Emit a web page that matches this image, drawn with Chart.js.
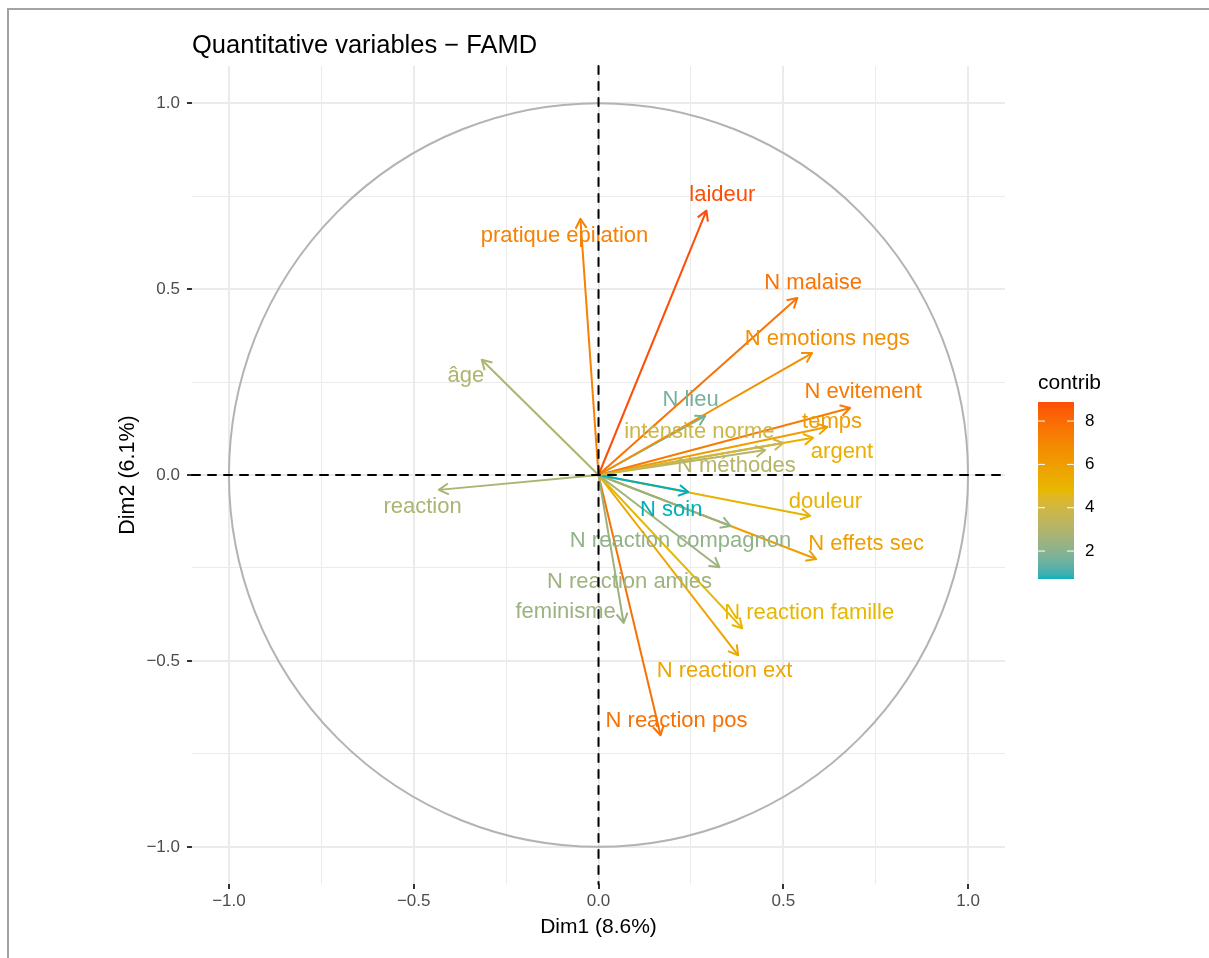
<!DOCTYPE html>
<html><head><meta charset="utf-8">
<script src="https://cdn.jsdelivr.net/npm/chart.js@4.4.0/dist/chart.umd.min.js"></script>
<style>html,body{margin:0;padding:0;background:#fff;}canvas{display:block;}</style>
</head><body>
<canvas id="c" width="1209" height="958"></canvas>
<script>
// ---------- data ----------
const variables = ['laideur','pratique epilation','N malaise','N emotions negs','âge','N lieu','intensite norme','N evitement','temps','argent','N méthodes','reaction','N soin','douleur','N reaction compagnon','N effets sec','N reaction amies','feminisme','N reaction famille','N reaction ext','N reaction pos'];
const dim1 = [0.292,-0.049,0.538,0.578,-0.316,0.289,0.500,0.681,0.619,0.581,0.451,-0.432,0.243,0.573,0.357,0.589,0.327,0.068,0.389,0.378,0.168];
const dim2 = [0.711,0.689,0.476,0.328,0.310,0.159,0.086,0.180,0.129,0.100,0.067,-0.040,-0.046,-0.110,-0.137,-0.226,-0.248,-0.398,-0.412,-0.485,-0.700];
const contrib = [8.88,7.16,7.74,6.63,2.94,1.64,3.86,7.44,6.00,5.22,3.12,2.82,0.71,5.10,2.19,5.97,2.52,2.45,4.82,5.67,7.77];
const labelDim1 = [0.335,-0.092,0.581,0.619,-0.359,0.249,0.273,0.716,0.632,0.659,0.373,-0.476,0.197,0.614,0.222,0.724,0.084,-0.089,0.570,0.341,0.211];
const labelDim2 = [0.754,0.643,0.517,0.366,0.266,0.202,0.116,0.223,0.143,0.062,0.024,-0.086,-0.094,-0.073,-0.178,-0.186,-0.288,-0.369,-0.371,-0.528,-0.662];
const axisTicks = [-1.0,-0.5,0.0,0.5,1.0];
const legendTicks = [2,4,6,8];
const gradientColors = ['#00AFBB','#E7B800','#FC4E07'];
const titleText = 'Quantitative variables \u2212 FAMD';
const xTitle = 'Dim1 (8.6%)';
const yTitle = 'Dim2 (6.1%)';
const legendTitle = 'contrib';

// ---------- colour ramp in CIELAB (like ggplot) ----------
function s2l(c){c/=255;return c<=0.04045?c/12.92:Math.pow((c+0.055)/1.055,2.4);}
function l2s(c){const v=c<=0.0031308?12.92*c:1.055*Math.pow(c,1/2.4)-0.055;return Math.round(Math.max(0,Math.min(1,v))*255);}
function hexToLab(h){
  const r=s2l(parseInt(h.substr(1,2),16)),g=s2l(parseInt(h.substr(3,2),16)),b=s2l(parseInt(h.substr(5,2),16));
  const X=(0.4124564*r+0.3575761*g+0.1804375*b)/0.95047,Y=0.2126729*r+0.7151522*g+0.0721750*b,Z=(0.0193339*r+0.1191920*g+0.9503041*b)/1.08883;
  const f=t=>t>0.008856?Math.cbrt(t):7.787*t+16/116;
  const fx=f(X),fy=f(Y),fz=f(Z);
  return [116*fy-16,500*(fx-fy),200*(fy-fz)];
}
function labToRgb(L,a,bb){
  const fy=(L+16)/116,fx=fy+a/500,fz=fy-bb/200;
  const fi=t=>{const t3=t*t*t;return t3>0.008856?t3:(t-16/116)/7.787;};
  const X=fi(fx)*0.95047,Y=fi(fy),Z=fi(fz)*1.08883;
  const r=3.2404542*X-1.5371385*Y-0.4985314*Z,g=-0.9692660*X+1.8760108*Y+0.0415560*Z,b=0.0556434*X-0.2040259*Y+1.0572252*Z;
  return 'rgb('+l2s(r)+','+l2s(g)+','+l2s(b)+')';
}
const labStops = gradientColors.map(hexToLab);
const cMin = Math.min(...contrib), cMax = Math.max(...contrib);
function colorFor(v){
  let t=(v-cMin)/(cMax-cMin); t=Math.max(0,Math.min(1,t));
  const seg=t<0.5?0:1; const u=(t-seg*0.5)/0.5;
  const A=labStops[seg],B=labStops[seg+1];
  return labToRgb(A[0]+(B[0]-A[0])*u,A[1]+(B[1]-A[1])*u,A[2]+(B[2]-A[2])*u);
}

const FONT = '"Liberation Sans", Arial, Helvetica, sans-serif';
Chart.defaults.font.family = FONT;

const isMajor = v => Math.abs(v*2-Math.round(v*2))<1e-9;
const fmt = v => { if(!isMajor(v)) return ''; const s=(Math.abs(v)<1e-9?0:v).toFixed(1); return s.replace('-','\u2212'); };

const datasets = variables.map((name,i)=>({
  label:name,
  data:[{x:0,y:0},{x:dim1[i],y:dim2[i]}],
  showLine:true,
  borderColor:colorFor(contrib[i]),
  backgroundColor:colorFor(contrib[i]),
  borderWidth:2,
  pointRadius:0,
  pointHoverRadius:0,
  borderCapStyle:'butt'
}));

const decor = {
  id:'decor',
  beforeDraw(chart){
    const ctx=chart.ctx;
    ctx.save();
    ctx.fillStyle='#ffffff';ctx.fillRect(0,0,chart.width,chart.height);
    ctx.fillStyle='#A3A3A3';
    ctx.fillRect(7,8,chart.width-7,2);
    ctx.fillRect(7,8,2,chart.height-8);
    ctx.restore();
  },
  beforeDatasetsDraw(chart){
    const ctx=chart.ctx,xs=chart.scales.x,ys=chart.scales.y;
    const cx=xs.getPixelForValue(0),cy=ys.getPixelForValue(0);
    const rx=xs.getPixelForValue(1)-cx,ry=cy-ys.getPixelForValue(1);
    ctx.save();
    ctx.strokeStyle='#B3B3B3';ctx.lineWidth=2;
    ctx.beginPath();ctx.ellipse(cx,cy,rx,ry,0,0,Math.PI*2);ctx.stroke();
    ctx.restore();
  },
  afterDatasetsDraw(chart){
    const ctx=chart.ctx,xs=chart.scales.x,ys=chart.scales.y,area=chart.chartArea;
    const ox=xs.getPixelForValue(0),oy=ys.getPixelForValue(0);
    ctx.save();
    ctx.lineWidth=2;ctx.lineJoin='round';ctx.lineCap='butt';
    variables.forEach((n,i)=>{
      const px=xs.getPixelForValue(dim1[i]),py=ys.getPixelForValue(dim2[i]);
      const th=Math.atan2(py-oy,px-ox),L=11,a=Math.PI/6;
      ctx.strokeStyle=colorFor(contrib[i]);
      ctx.beginPath();
      ctx.moveTo(px-L*Math.cos(th-a),py-L*Math.sin(th-a));
      ctx.lineTo(px,py);
      ctx.lineTo(px-L*Math.cos(th+a),py-L*Math.sin(th+a));
      ctx.stroke();
    });
    ctx.font='22px '+FONT;ctx.textAlign='center';ctx.textBaseline='middle';
    variables.forEach((n,i)=>{
      ctx.fillStyle=colorFor(contrib[i]);
      ctx.fillText(n,xs.getPixelForValue(labelDim1[i]),ys.getPixelForValue(labelDim2[i]));
    });
    ctx.strokeStyle='#000';ctx.lineWidth=2;ctx.setLineDash([8,8]);ctx.lineCap='round';
    ctx.beginPath();ctx.moveTo(area.left,oy);ctx.lineTo(area.right,oy);ctx.stroke();
    ctx.beginPath();ctx.moveTo(ox,area.top);ctx.lineTo(ox,area.bottom);ctx.stroke();
    ctx.restore();
  },
  afterDraw(chart){
    const ctx=chart.ctx,area=chart.chartArea;
    ctx.save();
    ctx.fillStyle='#000';ctx.font='25.5px '+FONT;ctx.textAlign='left';ctx.textBaseline='alphabetic';
    ctx.fillText(titleText,area.left,53);
    const bx=1038,bw=36,bt=402,bb=579;
    ctx.font='21px '+FONT;ctx.fillText(legendTitle,bx,389);
    for(let y=bt;y<bb;y++){
      const v=cMax-(y+0.5-bt)/(bb-bt)*(cMax-cMin);
      ctx.fillStyle=colorFor(v);ctx.fillRect(bx,y,bw,1);
    }
    ctx.strokeStyle='#ffffff';ctx.lineWidth=1;
    ctx.font='17px '+FONT;ctx.textBaseline='middle';
    legendTicks.forEach(t=>{
      const y=bt+(cMax-t)/(cMax-cMin)*(bb-bt);
      ctx.beginPath();ctx.moveTo(bx,y);ctx.lineTo(bx+7,y);ctx.moveTo(bx+bw-7,y);ctx.lineTo(bx+bw,y);ctx.stroke();
      ctx.fillStyle='#000';ctx.fillText(String(t),1085,y);
    });
    ctx.restore();
  }
};

const gridCommon = {
  color:'#EBEBEB',
  lineWidth:c=>isMajor(c.tick.value)?2:1,
  drawTicks:true,tickLength:5,
  tickColor:c=>isMajor(c.tick.value)?'#333333':'rgba(0,0,0,0)',
  tickWidth:2
};

new Chart(document.getElementById('c'),{
  type:'scatter',
  data:{datasets},
  options:{
    responsive:false,animation:false,
    layout:{padding:{left:8,top:66,right:204,bottom:0}},
    plugins:{legend:{display:false},tooltip:{enabled:false},title:{display:false}},
    scales:{
      x:{type:'linear',position:'bottom',min:-1.1,max:1.1,
        afterFit(s){s.height=74;},
        border:{display:false},
        grid:gridCommon,
        ticks:{stepSize:0.25,includeBounds:false,autoSkip:false,maxRotation:0,color:'#4D4D4D',font:{size:17},padding:2,callback:fmt},
        title:{display:true,text:xTitle,color:'#000',font:{size:21},padding:{top:0,bottom:18}}
      },
      y:{type:'linear',position:'left',min:-1.1,max:1.1,
        afterFit(s){s.width=184;},
        border:{display:false},
        grid:gridCommon,
        ticks:{stepSize:0.25,includeBounds:false,autoSkip:false,color:'#4D4D4D',font:{size:17},padding:7,callback:fmt},
        title:{display:true,text:yTitle,color:'#000',font:{size:21.5},padding:{top:107,bottom:0}}
      }
    }
  },
  plugins:[decor]
});
</script>
</body></html>
